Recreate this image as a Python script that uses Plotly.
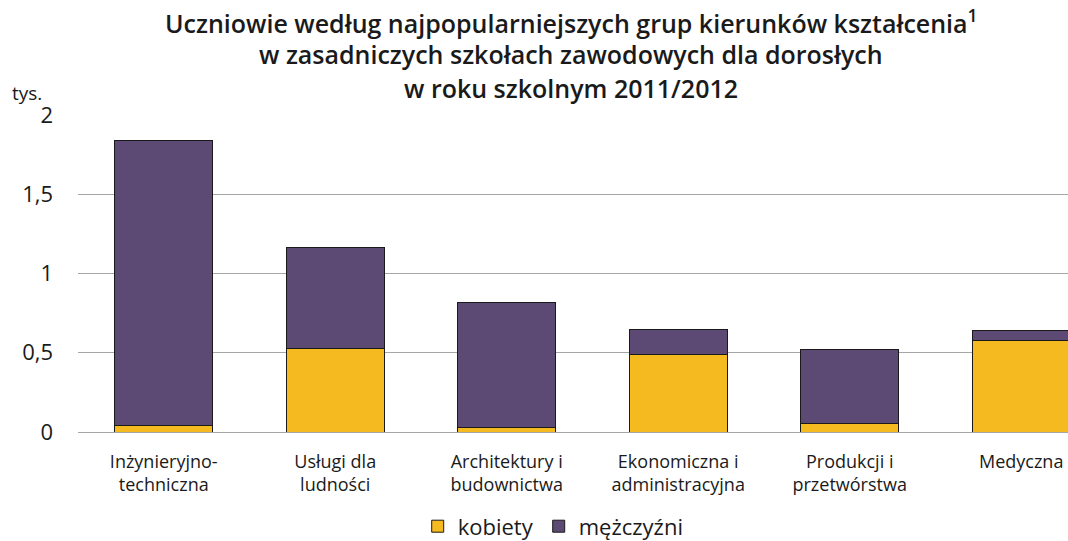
import plotly.graph_objects as go

categories = ["Inżynieryjno-<br>techniczna", "Usługi dla<br>ludności", "Architektury i<br>budownictwa",
              "Ekonomiczna i<br>administracyjna", "Produkcji i<br>przetwórstwa", "Medyczna"]
kobiety = [0.038, 0.530, 0.030, 0.486, 0.052, 0.578]
razem = [1.838, 1.167, 0.814, 0.644, 0.523, 0.642]
mezczyzni = [round(t - k, 3) for t, k in zip(razem, kobiety)]
y_ticks = [0, 0.5, 1, 1.5, 2]
y_tick_labels = ["0", "0,5", "1", "1,5", "2"]
title_lines = ["Uczniowie według najpopularniejszych grup kierunków kształcenia<sup>1</sup>",
               "w zasadniczych szkołach zawodowych dla dorosłych",
               "w roku szkolnym 2011/2012"]

FONT = "'Open Sans', Lato, sans-serif"
TXT = "#1a1a1a"
line = dict(color="#1a1a1a", width=1)

fig = go.Figure()
fig.add_trace(go.Bar(x=list(range(len(categories))), y=kobiety, name="kobiety",
                     marker=dict(color="#F4BA1F", line=line), width=0.57))
fig.add_trace(go.Bar(x=list(range(len(categories))), y=mezczyzni, name="mężczyźni",
                     marker=dict(color="#5C4A75", line=line), width=0.57))

fig.update_layout(
    barmode="stack",
    width=1068, height=541,
    margin=dict(l=78, r=0, t=115, b=109),
    paper_bgcolor="white", plot_bgcolor="white",
    font=dict(family=FONT, color=TXT),
    xaxis=dict(tickmode="array", tickvals=list(range(len(categories))), ticktext=categories,
               range=[-0.5, 5.273], showgrid=False, zeroline=False, showline=False,
               ticks="", ticklabelstandoff=17,
               tickfont=dict(size=18, family=FONT, color=TXT)),
    yaxis=dict(range=[0, 2], tickmode="array", tickvals=y_ticks, ticktext=y_tick_labels,
               showgrid=True, gridcolor="#A6A6A6", gridwidth=1, zeroline=True,
               zerolinecolor="#A6A6A6", zerolinewidth=1, showline=False,
               ticks="", ticklabelstandoff=24, tickfont=dict(size=22, family=FONT, color=TXT)),
    legend=dict(orientation="h", x=0.48, xanchor="center", xref="paper",
                y=0.027, yanchor="middle", yref="container",
                font=dict(size=22, family=FONT, color=TXT), traceorder="normal",
                itemwidth=30),
    showlegend=True,
)

title_y = [1.295, 1.193, 1.085]
for txt, yy in zip(title_lines, title_y):
    fig.add_annotation(text=txt, xref="paper", yref="paper", x=0.498,
                       xanchor="center", y=yy, yanchor="middle", showarrow=False,
                       font=dict(size=25, family=FONT, color=TXT, weight=600))

fig.add_annotation(text="tys.", xref="paper", yref="paper", x=-0.069, xanchor="left",
                   y=1.07, yanchor="middle", showarrow=False,
                   font=dict(size=19, family=FONT, color=TXT))

fig.write_html("out.html", config={"displayModeBar": False},
               post_script="document.body.style.margin='0';")
